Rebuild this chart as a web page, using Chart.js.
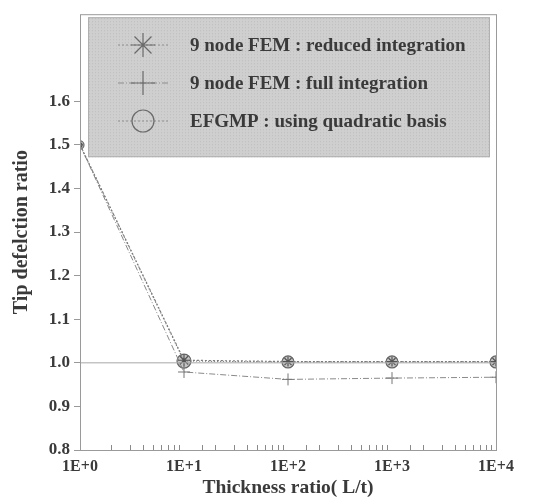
<!DOCTYPE html>
<html>
<head>
<meta charset="utf-8">
<script src="https://cdn.jsdelivr.net/npm/chart.js@4"></script>
<style>
  html, body { margin: 0; padding: 0; background: #fff; }
  #wrap { width: 543px; height: 504px; }
</style>
</head>
<body>
<div id="wrap"><canvas id="chart" width="543" height="504"></canvas></div>
<script>
// 数据
const thickness = [1, 10, 100, 1000, 10000];
const reducedFem = [1.5, 1.006, 1.003, 1.003, 1.003];
const fullFem = [1.5, 0.979, 0.962, 0.965, 0.967];
const efgmp = [1.5, 1.004, 1.002, 1.002, 1.002];
const refLine = [1.0, 1.0];
const refX = [1, 10000];
const seriesLabels = ['9 node FEM : reduced integration', '9 node FEM : full integration', 'EFGMP : using quadratic basis'];
const xTickLabels = ['1E+0', '1E+1', '1E+2', '1E+3', '1E+4'];
const yTickLabels = ['0.8', '0.9', '1.0', '1.1', '1.2', '1.3', '1.4', '1.5', '1.6'];

const serif = '"Liberation Serif", "DejaVu Serif", serif';
const ink = '#3a3a3a';

const toPoints = (xs, ys) => xs.map((x, i) => ({ x: x, y: ys[i] }));

// 图框 + 内向小刻度
const framePlugin = {
    id: 'frame',
    afterDraw(chart) {
        const { ctx, chartArea: a, scales } = chart;
        ctx.save();
        ctx.strokeStyle = '#9a9a9a';
        ctx.lineWidth = 1;
        ctx.strokeRect(a.left + 0.5, a.top + 0.5, a.right - a.left, a.bottom - a.top);
        // x 轴次刻度（向内）
        ctx.strokeStyle = '#8a8a8a';
        scales.x.ticks.forEach(t => {
            const px = Math.round(scales.x.getPixelForValue(t.value)) + 0.5;
            const major = Number.isInteger(Math.log10(t.value));
            if (major) return;
            ctx.beginPath();
            ctx.moveTo(px, a.bottom);
            ctx.lineTo(px, a.bottom - 5);
            ctx.stroke();
        });
        ctx.restore();
    }
};

// 图内灰底图例
const legendPlugin = {
    id: 'boxLegend',
    afterDatasetsDraw(chart) {
        const { ctx, chartArea: a } = chart;
        const bx = a.left + 8, by = a.top + 3, bw = a.right - a.left - 14, bh = 140;
        ctx.save();
        ctx.fillStyle = '#cfcfcf';
        ctx.fillRect(bx, by, bw, bh);
        // 网点纹理
        ctx.fillStyle = '#bdbdbd';
        for (let yy = by + 1; yy < by + bh; yy += 3) {
            for (let xx = bx + ((yy / 3) % 2 ? 1 : 2); xx < bx + bw; xx += 3) {
                ctx.fillRect(xx, yy, 1, 1);
            }
        }
        ctx.strokeStyle = '#b0b0b0';
        ctx.strokeRect(bx + 0.5, by + 0.5, bw - 1, bh - 1);

        const rows = [45, 83, 121];
        const styles = ['star', 'cross', 'circle'];
        const dashes = [[2, 2], [6, 2, 1, 2], [2, 2]];
        rows.forEach((ry, i) => {
            const cx = 143;
            ctx.strokeStyle = '#8c8c8c';
            ctx.lineWidth = 1;
            ctx.setLineDash(dashes[i]);
            ctx.beginPath();
            ctx.moveTo(118, ry); ctx.lineTo(170, ry);
            ctx.stroke();
            ctx.setLineDash([]);
            ctx.strokeStyle = '#6a6a6a';
            ctx.fillStyle = 'rgba(0,0,0,0)';
            ctx.lineWidth = 1.2;
            Chart.helpers.drawPoint(ctx, { pointStyle: styles[i], radius: i === 2 ? 11 : 12, rotation: 0, borderWidth: 1.2 }, cx, ry);
            ctx.fillStyle = ink;
            ctx.font = 'bold 19px ' + serif;
            ctx.textBaseline = 'middle';
            ctx.fillText(seriesLabels[i], 190, ry + 1);
        });
        ctx.restore();
    }
};

new Chart(document.getElementById('chart'), {
    type: 'line',
    data: {
        datasets: [
            {
                label: 'ref',
                data: toPoints(refX, refLine),
                borderColor: '#a8a8a8',
                borderWidth: 1,
                pointRadius: 0
            },
            {
                label: seriesLabels[0],
                data: toPoints(thickness, reducedFem),
                borderColor: '#7a7a7a',
                borderWidth: 1.2,
                borderDash: [2, 2],
                pointStyle: 'star',
                pointRadius: [3, 6, 5, 5, 5],
                pointBorderColor: '#555',
                pointBorderWidth: 1.2
            },
            {
                label: seriesLabels[1],
                data: toPoints(thickness, fullFem),
                borderColor: '#8a8a8a',
                borderWidth: 1,
                borderDash: [6, 2, 1, 2],
                pointStyle: 'cross',
                pointRadius: [3, 6, 6, 6, 6],
                pointBorderColor: '#777',
                pointBorderWidth: 1
            },
            {
                label: seriesLabels[2],
                data: toPoints(thickness, efgmp),
                borderColor: '#7a7a7a',
                borderWidth: 1.2,
                borderDash: [1, 2],
                pointStyle: 'circle',
                pointRadius: [4, 7, 6, 6, 6],
                pointBackgroundColor: 'rgba(150,150,150,0.55)',
                pointBorderColor: '#666',
                pointBorderWidth: 1.2
            }
        ]
    },
    options: {
        responsive: false,
        animation: false,
        layout: { padding: { top: 12, right: 47, left: 0, bottom: 0 } },
        plugins: {
            legend: { display: false },
            tooltip: { enabled: false }
        },
        scales: {
            x: {
                type: 'logarithmic',
                min: 1,
                max: 10000,
                afterFit(s) { s.height = 54; },
                grid: { display: false, drawTicks: false },
                border: { display: false },
                ticks: {
                    autoSkip: false,
                    maxRotation: 0,
                    padding: 7,
                    color: ink,
                    font: { family: serif, size: 16, weight: 'bold' },
                    callback(v) {
                        const p = Math.log10(v);
                        return Number.isInteger(p) ? xTickLabels[p] : '';
                    }
                },
                title: {
                    display: true,
                    text: 'Thickness ratio( L/t)',
                    color: ink,
                    padding: { top: -3 },
                    font: { family: serif, size: 19.5, weight: 'bold' }
                }
            },
            y: {
                min: 0.8,
                max: 1.8,
                afterFit(s) { s.width = 80; },
                grid: {
                    drawOnChartArea: false,
                    tickLength: 6,
                    color: ctx => (ctx.tick && ctx.tick.value > 1.65 ? 'rgba(0,0,0,0)' : '#999')
                },
                border: { display: false },
                ticks: {
                    stepSize: 0.1,
                    padding: 4,
                    color: ink,
                    font: { family: serif, size: 17, weight: 'bold' },
                    callback(v) {
                        const i = Math.round((v - 0.8) * 10);
                        return yTickLabels[i] || '';
                    }
                },
                title: {
                    display: true,
                    text: 'Tip defelction ratio',
                    color: ink,
                    padding: { top: 10, bottom: 0 },
                    font: { family: serif, size: 20, weight: 'bold' }
                }
            }
        }
    },
    plugins: [framePlugin, legendPlugin]
});
</script>
</body>
</html>
